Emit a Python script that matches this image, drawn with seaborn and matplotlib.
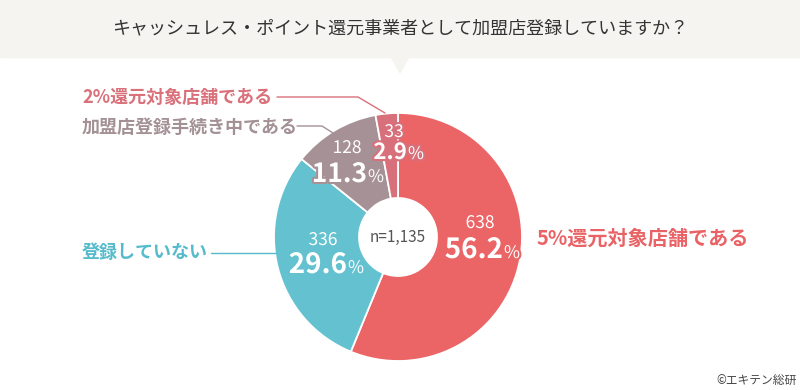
import matplotlib
matplotlib.use("Agg")
import matplotlib.pyplot as plt
import matplotlib.patheffects as pe
from matplotlib.patches import Rectangle, Polygon
import seaborn as sns

# データ
categories = ["5%還元対象店舗である", "登録していない", "加盟店登録手続き中である", "2%還元対象店舗である"]
counts = [638, 336, 128, 33]
total = sum(counts)
title = "キャッシュレス・ポイント還元事業者として加盟店登録していますか？"
source = "©エキテン総研"

sns.set_theme(style="white")
plt.rcParams['font.family'] = ['Noto Sans CJK JP', 'DejaVu Sans']

slice_colors = ["#EB6466", "#64C2D0", "#A69296", "#D7707A"]
label_colors = ["#E96366", "#55BBCB", "#A39195", "#D9707A"]

H = 390


def Y(y):
    # 画像座標(上から)をデータ座標に変換
    return H - y


fig = plt.figure(figsize=(8, 3.9), dpi=100)
ax = fig.add_axes([0, 0, 1, 1])

# タイトル帯
ax.add_patch(Rectangle((0, Y(57)), 800, 57, color="#F5F4F1", zorder=0))
ax.add_patch(Polygon([(391, Y(57)), (409, Y(57)), (400, Y(73))], closed=True, color="#F5F4F1", zorder=0))
ax.text(400, Y(28), title, ha="center", va="center", fontsize=13, color="#333333")

# ドーナツ
cx, cy, R, r = 398, Y(237), 124, 39
ax.pie(counts, colors=slice_colors, startangle=90, counterclock=False,
       radius=R, center=(cx, cy),
       wedgeprops=dict(width=R - r, edgecolor="white", linewidth=1.3))

ax.text(cx, Y(237), f"n={total:,}", ha="center", va="center", fontsize=11, color="#555555")

# スライス内のラベル  (件数の中心, 百分率の右端/ベースライン, 数字サイズ)
inner = [
    ((480, 223), (503, 258), 20),
    ((323, 240), (347, 273), 20),
    ((347, 148), (367, 182), 19),
    ((394, 132), (407, 159), 16),
]
for (cpos, ppos, size), n, col in zip(inner, counts, slice_colors):
    stroke = [pe.withStroke(linewidth=3, foreground=col)]
    ax.text(cpos[0], Y(cpos[1]), str(n), ha="center", va="center", fontsize=12.5,
            color="white", path_effects=stroke)
    pct = f"{n / total * 100:.1f}"
    ax.text(ppos[0], Y(ppos[1]), pct, ha="right", va="baseline", fontsize=size,
            fontweight="bold", color="white", path_effects=stroke)
    ax.text(ppos[0] + 1, Y(ppos[1]), "%", ha="left", va="baseline", fontsize=12.5,
            color="white", path_effects=stroke)

# 外側ラベルと引出線
ax.text(537, Y(238), categories[0], ha="left", va="center", fontsize=14.5,
        fontweight="bold", color=label_colors[0])
ax.text(82, Y(252), categories[1], ha="left", va="center", fontsize=13,
        fontweight="bold", color=label_colors[1])
ax.text(82, Y(127), categories[2], ha="left", va="center", fontsize=13,
        fontweight="bold", color=label_colors[2])
ax.text(82, Y(97), categories[3], ha="left", va="center", fontsize=13,
        fontweight="bold", color=label_colors[3])

ax.plot([211, 276], [Y(253), Y(253)], color=label_colors[1], lw=1)
ax.plot([297, 322, 333], [Y(126), Y(126), Y(133)], color=label_colors[2], lw=1)
ax.plot([277, 358, 385], [Y(97), Y(97), Y(113)], color=label_colors[3], lw=1)

ax.text(797, Y(381), source, ha="right", va="center", fontsize=8.5, color="#444444")

ax.set_xlim(0, 800)
ax.set_ylim(0, H)
ax.set_aspect("equal")
ax.axis("off")

fig.savefig("out.png", dpi=100)
